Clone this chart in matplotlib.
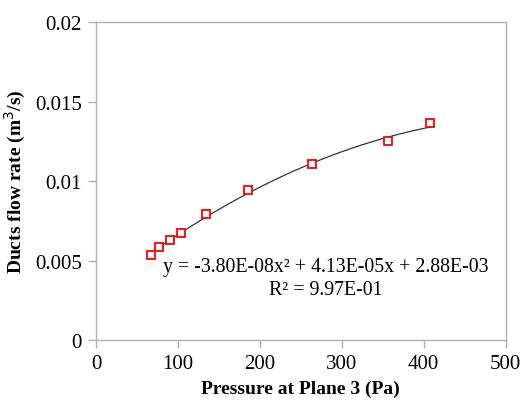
import matplotlib
matplotlib.use("Agg")
import matplotlib.pyplot as plt
import numpy as np

# Measured duct flow rate against static pressure at plane 3
pressure_pa = [66.8, 77.3, 90.0, 103.4, 134.7, 186.0, 264.1, 356.1, 408.2]
flow_m3s = [0.00535, 0.00587, 0.00631, 0.00676, 0.00791, 0.00946, 0.01106, 0.01253, 0.01366]

# Quadratic trendline coefficients (highest order first)
fit_coeffs = [-3.80e-08, 4.13e-05, 2.88e-03]
fit_r2 = 9.97e-01

x_ticks = [0, 100, 200, 300, 400, 500]
y_ticks = [0, 0.005, 0.01, 0.015, 0.02]
y_tick_labels = ["0", "0.005", "0.01", "0.015", "0.02"]

plt.rcParams["font.family"] = ["Liberation Serif", "DejaVu Serif"]

fig = plt.figure(figsize=(5.23, 4.06), dpi=100)
ax = fig.add_axes([96 / 523, 1 - 341 / 406, (505.5 - 96) / 523, (341 - 23.3) / 406])

xs = np.linspace(min(pressure_pa), max(pressure_pa), 200)
ax.plot(xs, np.polyval(fit_coeffs, xs), color="#333333", lw=0.9, zorder=2)
ax.plot(pressure_pa, flow_m3s, ls="none", marker="s", ms=6.2, mfc="white",
        mec="#ff0000", mew=1.3, zorder=3)

ax.set_xlim(0, 500)
ax.set_ylim(0, 0.02)
ax.set_xticks(x_ticks)
ax.set_yticks(y_ticks)
ax.set_yticklabels(y_tick_labels)

for s in ax.spines.values():
    s.set_color("#b0b0b0")
    s.set_linewidth(1.0)
ax.tick_params(axis="both", direction="out", length=6, width=1.0, color="#b0b0b0",
               labelsize=15, labelcolor="black", pad=4)

ax.set_xlabel("Pressure at Plane 3 (Pa)", fontsize=14, fontweight="bold", labelpad=5)
ax.set_ylabel("Ducts flow rate (m$^3$/s)", fontsize=14, fontweight="bold", labelpad=5)

a, b, c = fit_coeffs
eq = f"y = {a:.2E}x\u00b2 + {b:.2E}x + {c:.2E}"
ax.text(281, 0.0046, eq, ha="center", va="center", fontsize=14.3)
ax.text(281, 0.00315, f"R\u00b2 = {fit_r2:.2E}", ha="center", va="center", fontsize=14.3)

fig.savefig("out.png", dpi=100)
